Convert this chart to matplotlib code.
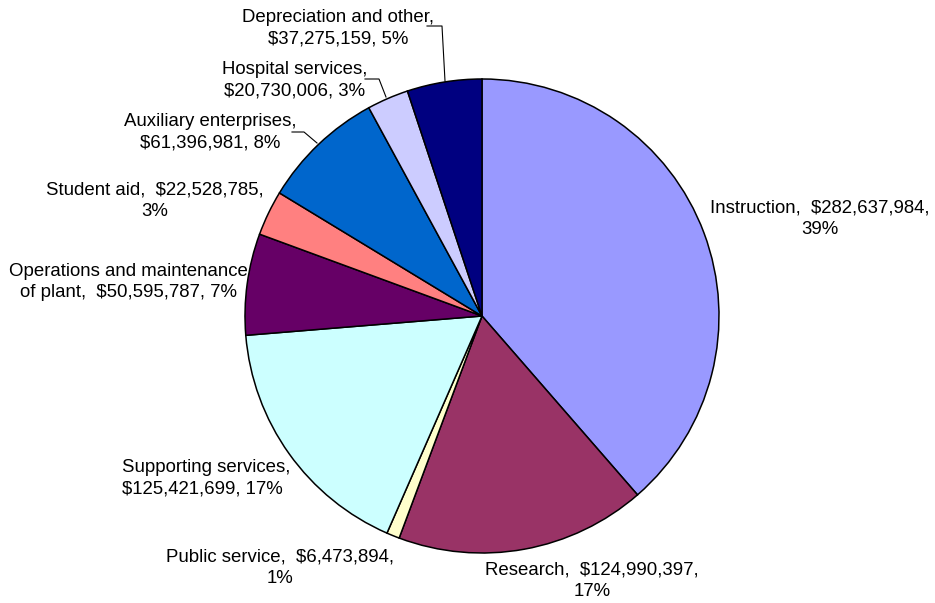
import matplotlib.pyplot as plt

# datos de la torta (orden de las agujas del reloj desde las 12)
names = ["Instruction", "Research", "Public service", "Supporting services",
         "Operations and maintenance\nof plant", "Student aid",
         "Auxiliary enterprises", "Hospital services", "Depreciation and other"]
values = [282637984, 124990397, 6473894, 125421699, 50595787,
          22528785, 61396981, 20730006, 37275159]
colors = ["#9999FF", "#993366", "#FFFFCC", "#CCFFFF", "#660066",
          "#FF8080", "#0066CC", "#CCCCFF", "#000080"]

# como se parte cada etiqueta
templates = ["{n},  {v},\n{p}", "{n},  {v},\n{p}", "{n},  {v},\n{p}",
             "{n},\n{v}, {p}", "{n},  {v}, {p}", "{n},  {v},\n{p}",
             "{n},\n{v}, {p}", "{n},\n{v}, {p}", "{n},\n{v}, {p}"]

# donde va cada etiqueta (pixeles, y desde arriba)
label_pos = [(820, 219), (592, 581), (280, 568), (122, 478), (128, 282),
             (155, 201), (210, 132), (295, 80), (338, 28)]
label_ha = ["center", "center", "center", "left", "center",
            "center", "center", "center", "center"]

# lineas guia
leaders = {
    6: [(292, 132), (304, 132), (317, 143)],
    7: [(365, 79), (379, 79), (386, 97)],
    8: [(427, 26), (442, 26), (445, 81)],
}

W, H = 935, 603
fig = plt.figure(figsize=(W / 100, H / 100), dpi=100)
ax = fig.add_axes([0, 0, 1, 1])

ax.pie(values, colors=colors, startangle=90, counterclock=False,
       center=(482, H - 316), radius=237,
       wedgeprops=dict(edgecolor="black", linewidth=1.1))

total = sum(values)
for i, n in enumerate(names):
    pct = "{}%".format(round(values[i] / total * 100))
    txt = templates[i].format(n=n, v="${:,}".format(values[i]), p=pct)
    x, y = label_pos[i]
    ax.text(x, H - y, txt, ha=label_ha[i], va="center", multialignment=label_ha[i],
            fontsize=13.4, family="Liberation Sans", linespacing=1.33, zorder=0)

for i, pts in leaders.items():
    ax.plot([p[0] for p in pts], [H - p[1] for p in pts], color="black", lw=0.8)

ax.set_xlim(0, W)
ax.set_ylim(0, H)
ax.set_aspect("equal")
ax.axis("off")

fig.savefig("out.png", dpi=100)
